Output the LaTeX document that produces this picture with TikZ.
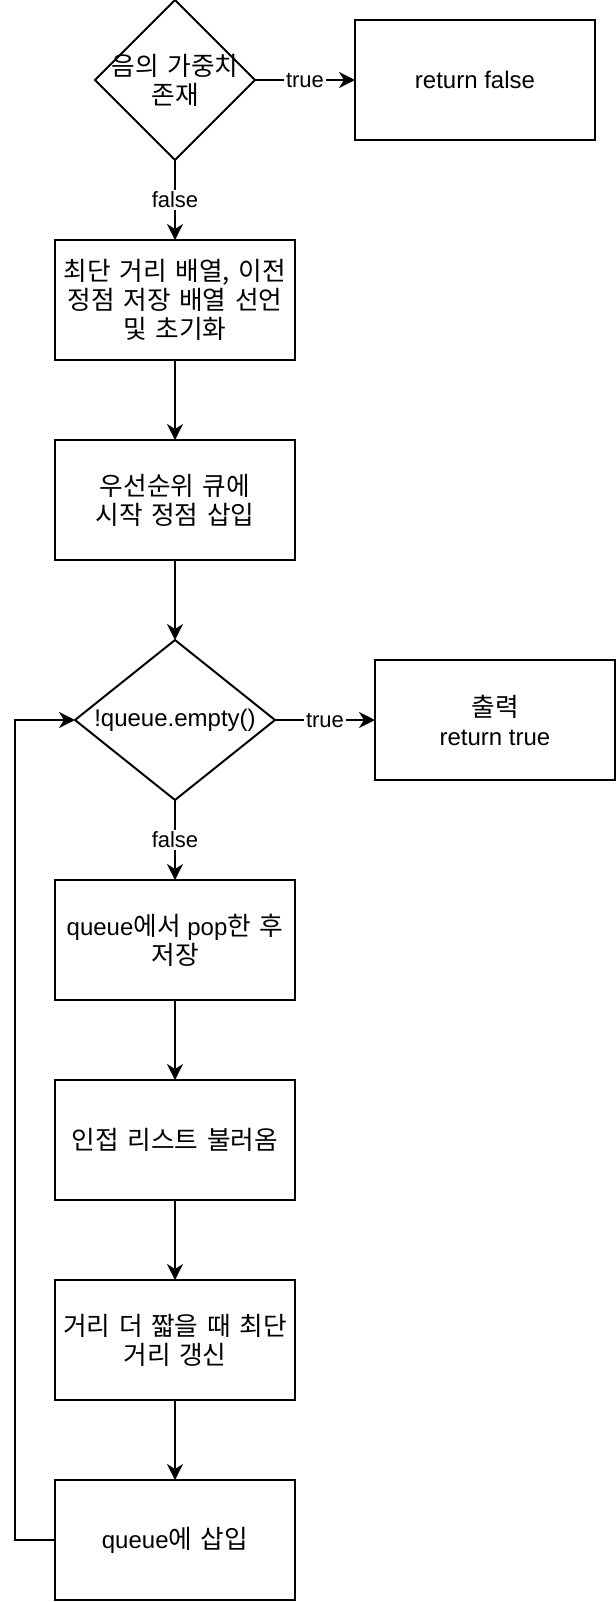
\documentclass[tikz,border=0pt]{standalone}
\usepackage{fontspec}
\setmainfont{Liberation Sans}
\newfontfamily\kr[Scale=1.07,WordSpace=1.5]{Noto Sans CJK KR}
\usetikzlibrary{shapes.geometric,arrows.meta}

\begin{document}
\begin{tikzpicture}
[x=0.5pt,y=-0.5pt,
  arrowDecorate/.style={-{Stealth[length=8pt,width=8pt,inset=2.5pt]},line width=1pt},%
  boxDecorate/.style={shape=rectangle,draw,line width=1pt,minimum width=120pt,minimum height=60pt,inner sep=2pt,outer sep=0pt,align=center,font=\fontsize{12pt}{14.5pt}\selectfont},%
  choiceDecorate/.style={shape=diamond,draw,line width=1pt,inner sep=0pt,outer sep=0pt},%
  textDecorate/.style={inner sep=0pt,align=center,font=\fontsize{12pt}{14.5pt}\selectfont},%
  labelDecorate/.style={fill=white,inner sep=1pt,font=\fontsize{11pt}{13pt}\selectfont}]
\useasboundingbox (0,0) rectangle (616,1602);
%% decisions
\node (neg) at (175,80) [choiceDecorate,minimum width=80pt,minimum height=80pt] {};
\node (negtext) at (neg.center) [textDecorate] {{\kr 음의 가중치}\\{\kr 존재}};
\node (loop) at (175,720) [choiceDecorate,minimum width=100pt,minimum height=80pt] {};
\node (looptext) at (loop.center) [textDecorate] {!queue.empty()};
%% boxes on the side
\node (retf) at (475,80) [boxDecorate] {return false};
\node (out) at (495,720) [boxDecorate] {{\kr 출력}\\return true};
%% boxes down the column
\foreach \nodename/\y/\nodetext in {
  init/300/{{\kr 최단 거리 배열, 이전}\\{\kr 정점 저장 배열 선언}\\{\kr 및 초기화}},
  push/500/{{\kr 우선순위 큐에}\\{\kr 시작 정점 삽입}},
  pop/940/{queue{\kr 에서} pop{\kr 한 후}\\{\kr 저장}},
  adj/1140/{{\kr 인접 리스트 불러옴}},
  relax/1340/{{\kr 거리 더 짧을 때 최단}\\{\kr 거리 갱신}},
  ins/1540/{queue{\kr 에 삽입}}}
{
  \node (\nodename) at (175,\y) [boxDecorate] {\nodetext};
}
\coordinate (back) at (15,1540);
%% edges or lines
\path
\foreach \startnode/\endnode in {init/push, push/loop, pop/adj, adj/relax, relax/ins}
{
  (\startnode) edge[arrowDecorate] (\endnode)
};
\draw[arrowDecorate] (neg) -- node[labelDecorate] {true} (retf);
\draw[arrowDecorate] (neg) -- node[labelDecorate] {false} (init);
\draw[arrowDecorate] (loop) -- node[labelDecorate] {true} (out);
\draw[arrowDecorate] (loop) -- node[labelDecorate] {false} (pop);
\draw[arrowDecorate] (ins.west) -- (back) |- (loop.west);
\end{tikzpicture}
\end{document}
